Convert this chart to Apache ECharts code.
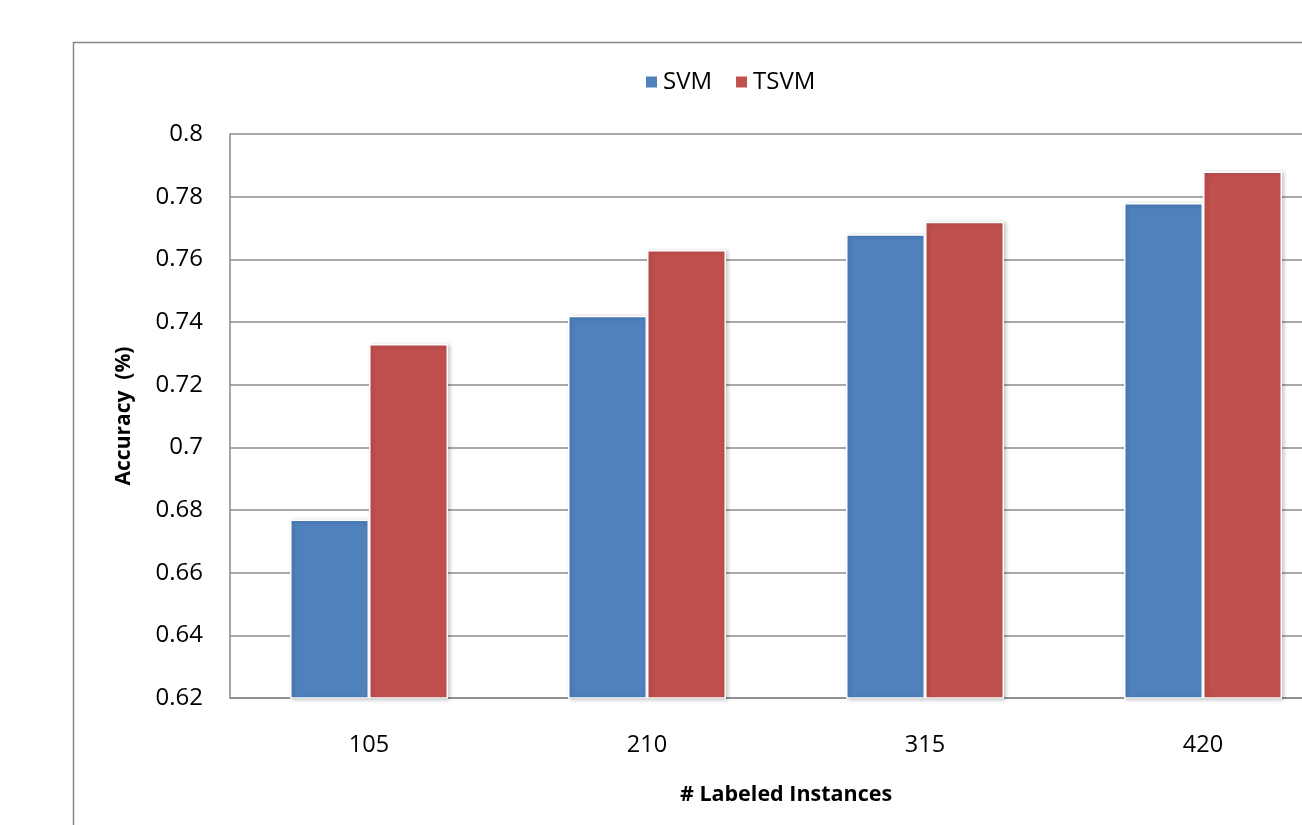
<!DOCTYPE html>
<html>
<head>
<meta charset="utf-8">
<script src="https://cdn.jsdelivr.net/npm/echarts@6/dist/echarts.min.js"></script>
<style>
  html, body { margin: 0; padding: 0; background: #fff; overflow: hidden; width: 1302px; height: 825px; }
  /* the plot continues past the right edge of the page; the container is wider and clipped */
  #chart { width: 1400px; height: 825px; }
</style>
</head>
<body>
<div id="chart"></div>
<script>
// Accuracy of SVM vs. TSVM for growing numbers of labeled instances
const categories = ['105', '210', '315', '420'];
const svmValues = [0.677, 0.742, 0.768, 0.778];
const tsvmValues = [0.733, 0.763, 0.772, 0.788];
const seriesNames = ['SVM', 'TSVM'];

const FONT = '"Open Sans", "Noto Sans", sans-serif';
const barShadow = {
  shadowColor: 'rgba(0,0,0,0.22)',
  shadowBlur: 4,
  shadowOffsetX: 2,
  shadowOffsetY: 1
};

const chart = echarts.init(document.getElementById('chart'), null, { renderer: 'canvas' });

chart.setOption({
  animation: false,
  backgroundColor: '#ffffff',
  textStyle: { fontFamily: FONT, color: '#000' },
  graphic: [{
    type: 'rect',
    shape: { x: 73.5, y: 42.5, width: 1400, height: 1000 },
    style: { fill: 'none', stroke: '#868686', lineWidth: 1.5 },
    silent: true,
    z: -10
  }],
  legend: {
    data: seriesNames,
    left: 639,
    top: 65,
    itemWidth: 13,
    itemHeight: 13,
    itemGap: 22,
    icon: 'rect',
    textStyle: { fontFamily: FONT, fontSize: 24, color: '#000' }
  },
  grid: { left: 230, top: 134, width: 1112, height: 564, containLabel: false },
  xAxis: {
    type: 'category',
    data: categories,
    name: '# Labeled Instances',
    nameLocation: 'middle',
    nameGap: 86,
    nameTextStyle: { fontFamily: FONT, fontSize: 21.5, fontWeight: 'bold', color: '#000' },
    axisLine: { show: true, lineStyle: { color: '#888', width: 1.5 } },
    axisTick: { show: false },
    axisLabel: { margin: 35, fontSize: 23.5, color: '#000', fontFamily: FONT },
    splitLine: { show: false }
  },
  yAxis: {
    type: 'value',
    min: 0.62,
    max: 0.8,
    interval: 0.02,
    name: 'Accuracy  (%)',
    nameLocation: 'middle',
    nameGap: 95,
    nameTextStyle: { fontFamily: FONT, fontSize: 21, fontWeight: 'bold', color: '#000' },
    axisLine: { show: true, lineStyle: { color: '#888', width: 1.5 } },
    axisTick: { show: false },
    axisLabel: {
      margin: 27, fontSize: 24, color: '#000', fontFamily: FONT,
      formatter: v => String(parseFloat(v.toFixed(2)))
    },
    splitLine: { show: true, lineStyle: { color: '#8c8c8c', width: 1.5 } }
  },
  series: [
    {
      name: seriesNames[0],
      type: 'bar',
      data: svmValues,
      barWidth: 79,
      barGap: '0%',
      itemStyle: Object.assign({ color: '#4F81BD', borderColor: '#fff', borderWidth: 1.5 }, barShadow)
    },
    {
      name: seriesNames[1],
      type: 'bar',
      data: tsvmValues,
      barWidth: 79,
      barGap: '0%',
      itemStyle: Object.assign({ color: '#C0504D', borderColor: '#fff', borderWidth: 1.5 }, barShadow)
    }
  ]
});
</script>
</body>
</html>
